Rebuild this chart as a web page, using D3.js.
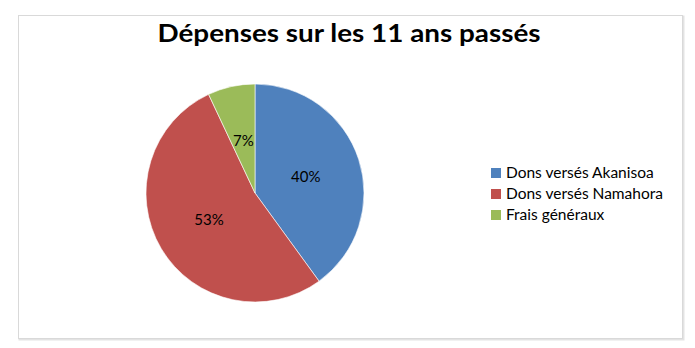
<!DOCTYPE html>
<html><head><meta charset="utf-8">
<script src="https://cdn.jsdelivr.net/npm/d3@7"></script>
<style>html,body{margin:0;padding:0;background:#fff;}svg{display:block;}</style>
</head><body>
<svg id="chart" width="695" height="348"></svg>
<script>
const categories = ["Dons versés Akanisoa", "Dons versés Namahora", "Frais généraux"];
const values = [40, 53, 7];
const percentLabels = ["40%", "53%", "7%"];
const colors = ["#4F81BD", "#C0504D", "#9BBB59"];
const title = "Dépenses sur les 11 ans passés";

const svg = d3.select("#chart");
const font = "Lato, 'Open Sans', sans-serif";

// frame
svg.append("rect").attr("x", 19.5).attr("y", 16.5).attr("width", 664).attr("height", 323)
  .attr("fill", "none").attr("stroke", "#e3e3e3").attr("stroke-width", 2);
svg.append("rect").attr("x", 18.5).attr("y", 15.5).attr("width", 664).attr("height", 323)
  .attr("fill", "#fff").attr("stroke", "#d9d9d9").attr("stroke-width", 1);

// title
svg.append("text").attr("x", 349).attr("y", 42).attr("text-anchor", "middle")
  .attr("font-family", font).attr("font-weight", "bold").attr("font-size", 25)
  .attr("textLength", 383).attr("lengthAdjust", "spacingAndGlyphs")
  .attr("fill", "#000").text(title);

// pie
const cx = 255, cy = 193, r = 109;
const pie = d3.pie().sort(null).value(d => d)(values);
const arc = d3.arc().innerRadius(0).outerRadius(r);
const g = svg.append("g").attr("transform", `translate(${cx},${cy})`);
g.selectAll("path").data(pie).join("path")
  .attr("d", arc).attr("fill", (d, i) => colors[i])
  .attr("stroke", "#fff").attr("stroke-width", 0.6);

const labelArc = d3.arc().innerRadius(r * 0.49).outerRadius(r * 0.49);
g.selectAll("text").data(pie).join("text")
  .attr("transform", d => `translate(${labelArc.centroid(d)})`)
  .attr("text-anchor", "middle").attr("dy", "0.35em")
  .attr("font-family", font).attr("font-size", 15).attr("fill", "#000")
  .text((d, i) => percentLabels[i]);

// legend
const lg = svg.append("g").attr("transform", "translate(491,168)");
const rows = lg.selectAll("g").data(categories).join("g")
  .attr("transform", (d, i) => `translate(0,${i * 21})`);
rows.append("rect").attr("width", 10).attr("height", 10).attr("fill", (d, i) => colors[i]);
rows.append("text").attr("x", 15).attr("y", 5).attr("dy", "0.35em")
  .attr("font-family", font).attr("font-size", 15.5).attr("fill", "#000")
  .text(d => d);
</script>
</body></html>
